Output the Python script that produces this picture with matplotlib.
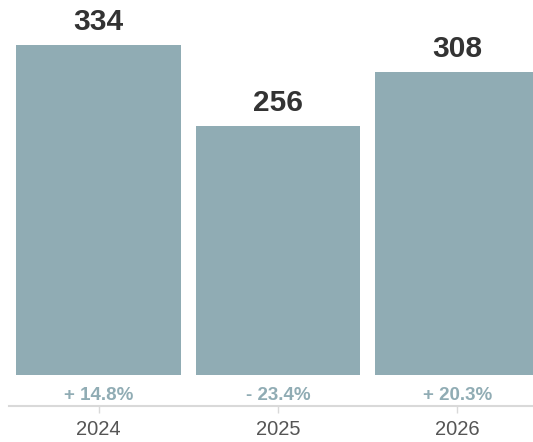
import matplotlib.pyplot as plt

years = ["2024", "2025", "2026"]
values = [334, 256, 308]
changes = ["+ 14.8%", "- 23.4%", "+ 20.3%"]

BAR_COLOR = "#90acb4"
TEXT_DARK = "#333333"
RULE = "#d9d9d9"

plt.rcParams["font.family"] = ["Liberation Sans", "DejaVu Sans"]

W, H = 533, 442
fig = plt.figure(figsize=(W / 100, H / 100), dpi=100)
# plot area in pixels: bars sit on y=375, band of 179.3px per year
ax = fig.add_axes([9 / W, 67 / H, 538 / W, 375 / H])

x = list(range(len(years)))
ax.bar(x, values, width=0.92, color=BAR_COLOR)
ax.set_xlim(-0.5, 2.5)
ax.set_ylim(16.4, 16.4 + 375 / 1.038)

for i, v in enumerate(values):
    ax.annotate(str(v), (i, v), xytext=(0, 10.8), textcoords="offset points",
                ha="center", va="baseline", fontsize=21.5, fontweight="bold",
                color=TEXT_DARK)
    ax.annotate(changes[i], (i, 0), xycoords=("data", "axes fraction"),
                xytext=(0, -18), textcoords="offset points",
                ha="center", va="baseline", fontsize=13.5, fontweight="bold",
                color=BAR_COLOR, annotation_clip=False)

for side in ["top", "right", "left"]:
    ax.spines[side].set_visible(False)
ax.spines["bottom"].set_position(("outward", 22.3))
ax.spines["bottom"].set_color(RULE)
ax.spines["bottom"].set_linewidth(1.5)
ax.set_yticks([])
ax.set_xticks(x)
ax.set_xticklabels(years, fontsize=14.5, color="#555555")
ax.tick_params(axis="x", length=5, width=1, color=RULE, pad=5)

fig.savefig("out.png", dpi=100)
